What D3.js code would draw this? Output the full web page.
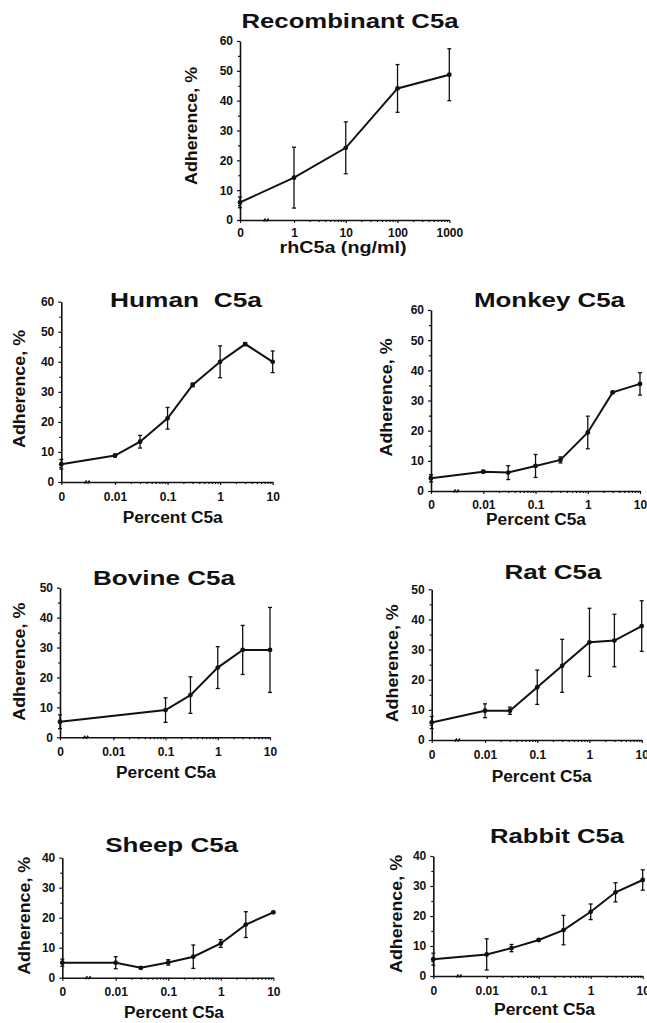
<!DOCTYPE html>
<html>
<head>
<meta charset="utf-8">
<script src="https://cdn.jsdelivr.net/npm/d3@7"></script>
<style>
  body { margin: 0; background: #fff; }
  svg { display: block; overflow: hidden; }
  text { font-family: "Liberation Sans", Arial, Helvetica, sans-serif; font-weight: bold; fill: #111; }
  .axis .domain { stroke: #111; stroke-width: 1.6; }
  .axis line { stroke: #111; stroke-width: 1.2; }
  .axis text { font-size: 12px; fill: #111; }
</style>
</head>
<body>
<svg id="chart" width="647" height="1023"></svg>
<script>
// dose levels and tick labels
const doseRecombinant = [0, 1, 10, 100, 1000];
const dosePercent = [0, 0.01, 0.03, 0.1, 0.3, 1, 3, 10];
const doseBovine = [0, 0.1, 0.3, 1, 3, 10];
const xTicksRecombinant = [0, 1, 10, 100, 1000];
const xTicksPercent = [0, 0.01, 0.1, 1, 10];
const yTicks60 = [0, 10, 20, 30, 40, 50, 60];
const yTicks50 = [0, 10, 20, 30, 40, 50];
const yTicks40 = [0, 10, 20, 30, 40];

// adherence (%) and error bars
const adhRecombinant = [5.9, 14.2, 24.2, 44.1, 48.7];
const errRecombinant = [1.8, 10.2, 8.7, 8.0, 8.7];
const adhHuman = [5.9, 8.8, 13.4, 21.2, 32.3, 40.0, 45.9, 40.0];
const errHuman = [1.6, 0.5, 2.1, 3.6, 0.6, 5.3, 0.5, 3.6];
const adhMonkey = [4.2, 6.4, 6.1, 8.3, 10.3, 19.4, 32.7, 35.5];
const errMonkey = [1.2, 0.4, 2.3, 3.8, 1.0, 5.4, 0.3, 3.7];
const adhBovine = [5.2, 9.1, 14.1, 23.3, 29.2, 29.2];
const errBovine = [2.3, 4.1, 6.1, 7.0, 8.2, 14.2];
const adhRat = [5.8, 9.7, 9.7, 17.5, 24.6, 32.4, 33.0, 37.8];
const errRat = [2.0, 2.3, 1.2, 5.7, 8.8, 11.3, 8.7, 8.4];
const adhSheep = [5.0, 5.0, 3.3, 5.1, 7.0, 11.4, 17.7, 21.8];
const errSheep = [1.2, 2.0, 0.3, 0.9, 3.9, 1.3, 4.3, 0.3];
const adhRabbit = [5.6, 7.2, 9.3, 12.0, 15.3, 21.4, 27.9, 32.0];
const errRabbit = [2.0, 5.2, 1.2, 0.3, 4.9, 2.6, 3.2, 3.4];

const panels = [
  { title: "Recombinant C5a", xLabel: "rhC5a (ng/ml)", dose: doseRecombinant, adh: adhRecombinant, err: errRecombinant,
    xTicks: xTicksRecombinant, yTicks: yTicks60, pad: 5,
    x0: 240, xa: 294, xb: 449.3, yTop: 41, yBot: 220,
    title_: [350, 28, 217], xLab: [343, 253, 127], yLab: [197, 126] },
  { title: "Human  C5a", xLabel: "Percent C5a", dose: dosePercent, adh: adhHuman, err: errHuman,
    xTicks: xTicksPercent, yTicks: yTicks60, pad: 7,
    x0: 61.3, xa: 115, xb: 272.7, yTop: 301.7, yBot: 482,
    title_: [186, 306.7, 152], xLab: [172.7, 523.3, 100], yLab: [25, 389] },
  { title: "Monkey C5a", xLabel: "Percent C5a", dose: dosePercent, adh: adhMonkey, err: errMonkey,
    xTicks: xTicksPercent, yTicks: yTicks60, pad: 6,
    x0: 431, xa: 483.3, xb: 640, yTop: 310, yBot: 491,
    title_: [549.5, 306.7, 151], xLab: [536, 525, 100], yLab: [391.7, 397.5] },
  { title: "Bovine C5a", xLabel: "Percent C5a", dose: doseBovine, adh: adhBovine, err: errBovine,
    xTicks: xTicksPercent, yTicks: yTicks50, pad: 7,
    x0: 60, xa: 113.3, xb: 270, yTop: 587.7, yBot: 737.3,
    title_: [164, 585, 142], xLab: [166, 777.7, 100], yLab: [25, 661.7] },
  { title: "Rat C5a", xLabel: "Percent C5a", dose: dosePercent, adh: adhRat, err: errRat,
    xTicks: xTicksPercent, yTicks: yTicks50, pad: 7,
    x0: 431.7, xa: 485, xb: 641.7, yTop: 589.3, yBot: 740,
    title_: [553, 579.3, 97], xLab: [541.7, 782, 100], yLab: [398.3, 663.3] },
  { title: "Sheep C5a", xLabel: "Percent C5a", dose: dosePercent, adh: adhSheep, err: errSheep,
    xTicks: xTicksPercent, yTicks: yTicks40, pad: 7,
    x0: 62.3, xa: 115.7, xb: 273.3, yTop: 857.7, yBot: 977.7,
    title_: [171.7, 851.7, 133], xLab: [174, 1017.7, 100], yLab: [30, 915.8] },
  { title: "Rabbit C5a", xLabel: "Percent C5a", dose: dosePercent, adh: adhRabbit, err: errRabbit,
    xTicks: xTicksPercent, yTicks: yTicks40, pad: 7,
    x0: 433.3, xa: 486.7, xb: 642.7, yTop: 856, yBot: 976,
    title_: [557, 843.3, 134], xLab: [544.5, 1015, 101], yLab: [401.7, 914] }
];

const svg = d3.select("#chart");

panels.forEach((p) => drawPanel(p));

function drawPanel(p) {
  const g = svg.append("g");
  const last = p.xTicks[p.xTicks.length - 1];

  // log scale for the decades, with 0 pinned to the y axis
  const log = d3.scaleLog().domain([p.xTicks[1], last]).range([p.xa, p.xb]);
  const x = (v) => (v === 0 ? p.x0 : log(v));
  x.copy = () => x;
  x.range = () => [p.x0, p.xb];
  x.domain = () => [0, last];

  const yMax = p.yTicks[p.yTicks.length - 1];
  const y = d3.scaleLinear().domain([0, yMax]).range([p.yBot, p.yTop]);

  // minor ticks
  const minorX = [];
  for (let d = p.xTicks[1]; d < last; d *= 10) {
    for (let k = 2; k <= 9; k++) minorX.push(d * k);
  }
  g.append("g")
    .attr("class", "axis")
    .attr("transform", `translate(0,${p.yBot})`)
    .call(d3.axisBottom(log).tickValues(minorX).tickSize(2).tickFormat(""))
    .call((s) => s.select(".domain").remove());

  g.append("g")
    .attr("class", "axis")
    .attr("transform", `translate(${p.x0},0)`)
    .call(d3.axisLeft(y).tickValues(d3.range(5, yMax, 10)).tickSize(2).tickFormat(""))
    .call((s) => s.select(".domain").remove());

  g.append("g")
    .attr("class", "axis")
    .attr("transform", `translate(0,${p.yBot})`)
    .call(d3.axisBottom(x).tickValues(p.xTicks).tickFormat((d) => String(d)).tickSize(3).tickSizeOuter(0).tickPadding(p.pad));

  g.append("g")
    .attr("class", "axis")
    .attr("transform", `translate(${p.x0},0)`)
    .call(d3.axisLeft(y).tickValues(p.yTicks).tickSize(3).tickSizeOuter(0).tickPadding(4))
    .call((s) => s.selectAll("text").attr("font-size", 12.5));

  // axis break mark between 0 and first decade
  const mid = (p.x0 + p.xa) / 2;
  g.append("path")
    .attr("d", `M${mid - 3.5},${p.yBot + 1.5}L${mid - 1.5},${p.yBot - 1.5}M${mid - 0.5},${p.yBot + 1.5}L${mid + 1.5},${p.yBot - 1.5}`)
    .attr("stroke", "#111")
    .attr("stroke-width", 1.6)
    .attr("fill", "none");

  const pts = p.dose.map((d, i) => ({ dose: d, adh: p.adh[i], err: p.err[i] }));

  const line = d3
    .line()
    .x((d) => x(d.dose))
    .y((d) => y(d.adh));

  g.append("path").datum(pts).attr("fill", "none").attr("stroke", "#111").attr("stroke-width", 2).attr("d", line);

  const eb = g.append("g").attr("stroke", "#111").attr("stroke-width", 1.3);
  eb.selectAll("line.v")
    .data(pts)
    .join("line")
    .attr("class", "v")
    .attr("x1", (d) => x(d.dose))
    .attr("x2", (d) => x(d.dose))
    .attr("y1", (d) => y(d.adh - d.err))
    .attr("y2", (d) => y(d.adh + d.err));
  eb.selectAll("line.t")
    .data(pts)
    .join("line")
    .attr("class", "t")
    .attr("x1", (d) => x(d.dose) - 2)
    .attr("x2", (d) => x(d.dose) + 2)
    .attr("y1", (d) => y(d.adh + d.err))
    .attr("y2", (d) => y(d.adh + d.err));
  eb.selectAll("line.b")
    .data(pts)
    .join("line")
    .attr("class", "b")
    .attr("x1", (d) => x(d.dose) - 2)
    .attr("x2", (d) => x(d.dose) + 2)
    .attr("y1", (d) => y(d.adh - d.err))
    .attr("y2", (d) => y(d.adh - d.err));

  g.append("g")
    .selectAll("circle")
    .data(pts)
    .join("circle")
    .attr("cx", (d) => x(d.dose))
    .attr("cy", (d) => y(d.adh))
    .attr("r", 2.4)
    .attr("fill", "#111");

  // labels
  g.append("text")
    .attr("x", p.title_[0])
    .attr("y", p.title_[1])
    .attr("text-anchor", "middle")
    .attr("font-size", 21)
    .attr("textLength", p.title_[2])
    .attr("lengthAdjust", "spacingAndGlyphs")
    .style("white-space", "pre")
    .text(p.title);

  g.append("text")
    .attr("x", p.xLab[0])
    .attr("y", p.xLab[1])
    .attr("text-anchor", "middle")
    .attr("font-size", 16)
    .attr("textLength", p.xLab[2])
    .attr("lengthAdjust", "spacingAndGlyphs")
    .text(p.xLabel);

  g.append("text")
    .attr("transform", `translate(${p.yLab[0]},${p.yLab[1]}) rotate(-90)`)
    .attr("text-anchor", "middle")
    .attr("font-size", 16)
    .attr("textLength", 118)
    .attr("lengthAdjust", "spacingAndGlyphs")
    .text("Adherence, %");
}
</script>
</body>
</html>
